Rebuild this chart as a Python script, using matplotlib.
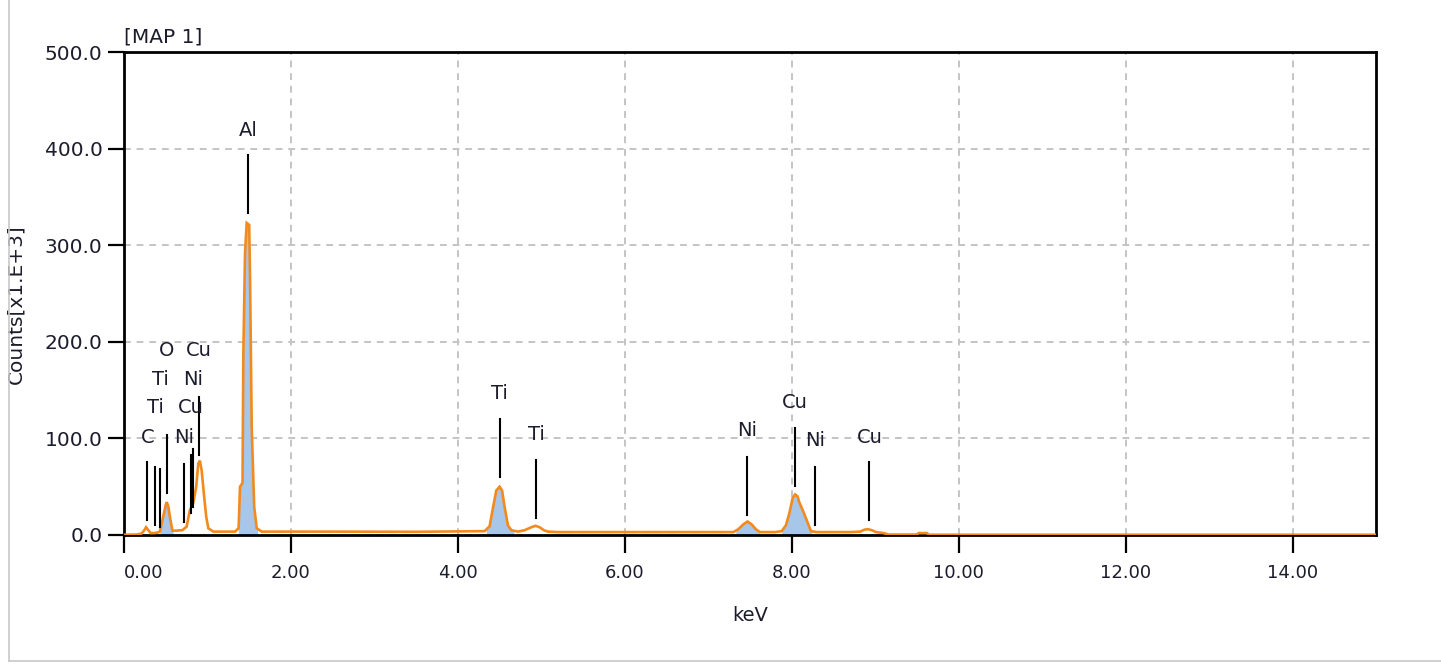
import matplotlib
matplotlib.use("Agg")
import matplotlib.pyplot as plt
import numpy as np
from matplotlib.lines import Line2D
from matplotlib.ticker import FormatStrFormatter

# ---------------- data ----------------
energy_kev = [0.00, 0.15, 0.21, 0.24, 0.264, 0.29, 0.32, 0.36, 0.40, 0.43, 0.47, 0.50,
              0.512, 0.53, 0.55, 0.58, 0.62, 0.70, 0.75, 0.79, 0.83, 0.865, 0.89, 0.91,
              0.93, 0.96, 0.985, 1.01, 1.07, 1.20, 1.33, 1.373, 1.39, 1.42, 1.43, 1.45,
              1.47, 1.50, 1.51, 1.53, 1.56, 1.59, 1.65, 2.50, 3.50, 4.32, 4.38, 4.42,
              4.46, 4.50, 4.53, 4.56, 4.60, 4.64, 4.72, 4.80, 4.88, 4.93, 4.98, 5.03,
              5.08, 5.20, 6.50, 7.30, 7.36, 7.42, 7.47, 7.52, 7.57, 7.62, 7.80, 7.88,
              7.93, 7.97, 8.01, 8.04, 8.07, 8.09, 8.14, 8.19, 8.23, 8.30, 8.70, 8.82,
              8.87, 8.91, 8.96, 9.01, 9.10, 9.16, 9.50, 9.52, 9.62, 9.64, 15.00]
counts_k = [0.3, 0.5, 1.5, 4.5, 8.0, 5.0, 2.0, 2.0, 2.5, 3.5, 19.0, 31.0,
            34.0, 30.0, 19.0, 4.5, 4.5, 5.0, 8.6, 26.0, 33.0, 50.0, 74.0, 77.0,
            67.0, 40.0, 19.0, 7.0, 3.5, 3.5, 3.5, 7.0, 50.0, 54.0, 188.0, 292.0,
            323.0, 321.0, 267.0, 112.0, 29.0, 7.0, 3.5, 3.5, 3.3, 4.0, 9.0, 28.0,
            46.0, 50.0, 46.0, 29.0, 10.0, 5.0, 3.5, 5.0, 8.0, 9.5, 8.0, 5.0,
            3.5, 3.0, 3.0, 3.0, 6.0, 11.0, 14.0, 11.0, 6.0, 3.0, 3.0, 4.0,
            10.0, 22.0, 38.0, 42.0, 40.0, 34.0, 24.0, 13.0, 4.0, 3.0, 3.0, 3.5,
            5.5, 6.0, 5.0, 3.0, 2.0, 0.5, 0.5, 2.0, 2.0, 0.3, 0.3]

# energy windows shown with the blue fill (identified peaks)
fill_windows_kev = [(0.43, 0.59), (1.37, 1.60), (4.34, 4.67), (7.33, 7.61), (7.88, 8.24)]

# element line markers
element_labels = ["C", "Ti", "Ti", "O", "Ni", "Cu", "Ni", "Cu",
                  "Al", "Ti", "Ti", "Ni", "Cu", "Ni", "Cu"]
line_energy_kev = [0.279, 0.375, 0.432, 0.513, 0.720, 0.804, 0.824, 0.900,
                   1.486, 4.50, 4.94, 7.47, 8.04, 8.28, 8.93]
line_base_k = [15.5, 10.4, 8.3, 43.8, 13.8, 22.8, 29.3, 82.8,
               333.0, 60.0, 17.6, 20.7, 50.7, 10.4, 15.5]
label_height_k = [101.4, 132.5, 160.5, 191.5, 100.8, 132.5, 160.5, 191.5,
                  419.0, 146.0, 104.0, 108.0, 137.0, 98.0, 101.4]
LINE_LEN = 60.0

x_ticks = [0, 2, 4, 6, 8, 10, 12, 14]
y_ticks = [0, 100, 200, 300, 400, 500]

# ---------------- figure ----------------
plt.rcParams["font.family"] = ["DejaVu Sans"]
TXT = "#1c1c2c"

fig = plt.figure(figsize=(14.41, 6.64), dpi=100)
W, H = 1441.0, 664.0
L, R, T, B = 124, 1376, 52, 535
ax = fig.add_axes([L / W, 1 - B / H, (R - L) / W, (B - T) / H])

E = np.array(energy_kev)
C = np.array(counts_k)

for a, b in fill_windows_kev:
    xs = np.linspace(a, b, 300)
    ax.fill_between(xs, 0, np.interp(xs, E, C), color="#a6c6ea", lw=0, zorder=2)

ax.plot(E, C, color="#f38a1e", lw=1.9, zorder=4, solid_joinstyle="miter")

for lab, e, base, ly in zip(element_labels, line_energy_kev, line_base_k, label_height_k):
    ax.plot([e, e], [base, base + LINE_LEN], color="black", lw=1.5, zorder=5)
    ax.text(e, ly, lab, ha="center", va="center", fontsize=14, color=TXT, zorder=6)

ax.set_xlim(0, 15)
ax.set_ylim(0, 500)
ax.set_xticks(x_ticks)
ax.set_yticks(y_ticks)
ax.xaxis.set_major_formatter(FormatStrFormatter("%.2f"))
ax.yaxis.set_major_formatter(FormatStrFormatter("%.1f"))

ax.grid(True, color="#c4c4c4", linestyle=(0, (3.5, 3)), lw=1.4, zorder=1)
ax.set_axisbelow(True)

for s in ax.spines.values():
    s.set_linewidth(2.0)
    s.set_color("black")
    s.set_zorder(3)

ax.tick_params(axis="x", direction="out", length=13, width=1.6, pad=8,
               labelsize=13, labelcolor=TXT)
ax.tick_params(axis="y", direction="out", length=11.5, width=1.6, pad=4,
               labelsize=14.5, labelcolor=TXT)
fig.canvas.draw()
first = ax.get_xticklabels()[0]
first.set_horizontalalignment("left")

ax.set_xlabel("keV", fontsize=14, color=TXT)
ax.xaxis.set_label_coords(0.5, -0.147)
ax.set_ylabel("Counts[x1.E+3]", fontsize=14.5, color=TXT)
ax.yaxis.set_label_coords(-0.079, 0.478)

ax.text(0.0, 1.031, "[MAP 1]", transform=ax.transAxes, ha="left", va="center",
        fontsize=14.5, color=TXT)

# outer window frame (left and bottom edges)
fig.add_artist(Line2D([9 / W, 9 / W], [0.0045, 1.0], transform=fig.transFigure,
                      color="#c8c8c8", lw=1.2))
fig.add_artist(Line2D([9 / W, 1.0], [0.0045, 0.0045], transform=fig.transFigure,
                      color="#c8c8c8", lw=1.2))

fig.savefig("out.png", dpi=100)
